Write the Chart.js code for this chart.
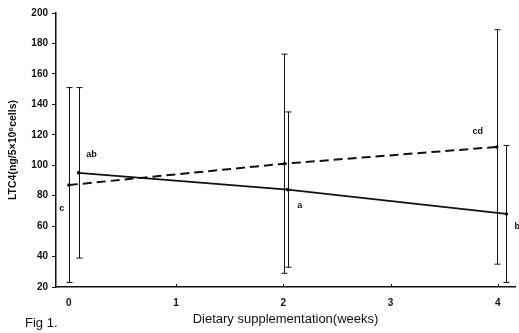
<!DOCTYPE html>
<html>
<head>
<meta charset="utf-8">
<script src="https://cdn.jsdelivr.net/npm/chart.js@4"></script>
<style>
  html, body { margin: 0; padding: 0; background: #fff; }
  #wrap { width: 519px; height: 333px; }
</style>
</head>
<body>
<div id="wrap"><canvas id="chart"></canvas></div>
<script>
// weeks on the x axis
const xTicks = [0, 1, 2, 3, 4];
const yTicks = [20, 40, 60, 80, 100, 120, 140, 160, 180, 200];

// dashed group (c, cd) and solid group (ab, a, b), slightly offset in x
const dashedX = [0.0, 2.01, 3.99];
const dashedMean = [87, 101, 112];
const dashedSd = [64, 72, 77];

const solidX = [0.09, 2.04, 4.08];
const solidMean = [95, 84, 68];
const solidSd = [56, 51, 45];

// significance letters, anchored to a point of a series
const letters = [
  { text: 'ab', series: 1, point: 0, dx: 13, dy: -18, align: 'center' },
  { text: 'c', series: 0, point: 0, dx: -7, dy: 24, align: 'center' },
  { text: 'a', series: 1, point: 1, dx: 12, dy: 16, align: 'center' },
  { text: 'cd', series: 0, point: 2, dx: -19, dy: -15, align: 'center' },
  { text: 'b', series: 1, point: 2, dx: 8, dy: 13, align: 'left' }
];

const toPoints = (xs, ys) => xs.map((x, i) => ({ x: x, y: ys[i] }));

const errorBars = {
  id: 'errorBars',
  afterDatasetsDraw(chart) {
    const { ctx, scales: { x, y } } = chart;
    ctx.save();
    ctx.strokeStyle = '#111';
    ctx.lineWidth = 1;
    chart.data.datasets.forEach(ds => {
      ds.data.forEach((p, i) => {
        const px = Math.round(x.getPixelForValue(p.x)) + 0.5;
        const top = y.getPixelForValue(p.y + ds.sd[i]);
        const bot = y.getPixelForValue(p.y - ds.sd[i]);
        ctx.beginPath();
        ctx.moveTo(px, top); ctx.lineTo(px, bot);
        ctx.moveTo(px - 3, top); ctx.lineTo(px + 3, top);
        ctx.moveTo(px - 3, bot); ctx.lineTo(px + 3, bot);
        ctx.stroke();
      });
    });
    ctx.restore();
  }
};

const extraText = {
  id: 'extraText',
  afterDraw(chart) {
    const { ctx, scales: { x, y } } = chart;
    ctx.save();
    ctx.fillStyle = '#111';
    ctx.textBaseline = 'middle';
    ctx.font = 'bold 9px "Liberation Sans", Arial, sans-serif';
    letters.forEach(l => {
      const p = chart.data.datasets[l.series].data[l.point];
      ctx.textAlign = l.align;
      ctx.fillText(l.text, x.getPixelForValue(p.x) + l.dx, y.getPixelForValue(p.y) + l.dy);
    });
    // small inward ticks on the x axis
    ctx.strokeStyle = '#111';
    ctx.lineWidth = 1;
    x.ticks.forEach(t => {
      if (t.value === 0) return;
      const px = Math.round(x.getPixelForValue(t.value)) + 0.5;
      ctx.beginPath();
      ctx.moveTo(px, y.bottom); ctx.lineTo(px, y.bottom - 3);
      ctx.stroke();
    });
    ctx.font = '13px "Liberation Sans", Arial, sans-serif';
    ctx.textAlign = 'left';
    ctx.fillText('Fig 1.', 25, 323);
    ctx.restore();
  }
};

new Chart(document.getElementById('chart'), {
  type: 'line',
  data: {
    datasets: [{
      label: 'dashed',
      data: toPoints(dashedX, dashedMean),
      sd: dashedSd,
      borderColor: '#111',
      borderWidth: 2,
      borderDash: [9, 5],
      pointRadius: 1.8,
      pointBackgroundColor: '#111',
      pointBorderWidth: 0,
      tension: 0
    }, {
      label: 'solid',
      data: toPoints(solidX, solidMean),
      sd: solidSd,
      borderColor: '#111',
      borderWidth: 1.8,
      pointRadius: 1.8,
      pointBackgroundColor: '#111',
      pointBorderWidth: 0,
      tension: 0
    }]
  },
  options: {
    responsive: true,
    maintainAspectRatio: false,
    animation: false,
    layout: { padding: { top: 13, right: 0, left: 0, bottom: 0 } },
    plugins: { legend: { display: false }, tooltip: { enabled: false } },
    scales: {
      x: {
        type: 'linear',
        min: -0.12,
        max: 4.16,
        afterBuildTicks: s => { s.ticks = xTicks.map(v => ({ value: v })); },
        afterFit: s => { s.height = 46; },
        grid: { display: false, drawTicks: false },
        border: { display: true, color: '#111', width: 1.5 },
        ticks: {
          padding: 10,
          color: '#111',
          font: { family: '"Liberation Sans", Arial, sans-serif', size: 10, weight: 'bold' }
        },
        title: {
          display: true,
          text: 'Dietary supplementation(weeks)',
          color: '#111',
          align: 'center',
          padding: { top: 0, bottom: 6 },
          font: { family: '"Liberation Sans", Arial, sans-serif', size: 13 }
        }
      },
      y: {
        min: 20,
        max: 200,
        afterBuildTicks: s => { s.ticks = yTicks.map(v => ({ value: v })); },
        afterFit: s => { s.width = 56; },
        grid: { drawOnChartArea: false, drawTicks: true, tickLength: 4, color: '#111' },
        border: { display: true, color: '#111', width: 1.5 },
        ticks: {
          padding: 4,
          color: '#111',
          font: { family: '"Liberation Sans", Arial, sans-serif', size: 10, weight: 'bold' }
        },
        title: {
          display: true,
          text: 'LTC4(ng/5\u00d710\u2076cells)',
          color: '#111',
          padding: { top: 7, bottom: 0 },
          font: { family: '"Liberation Sans", Arial, sans-serif', size: 10.5, weight: 'bold' }
        }
      }
    }
  },
  plugins: [errorBars, extraText]
});
</script>
</body>
</html>
